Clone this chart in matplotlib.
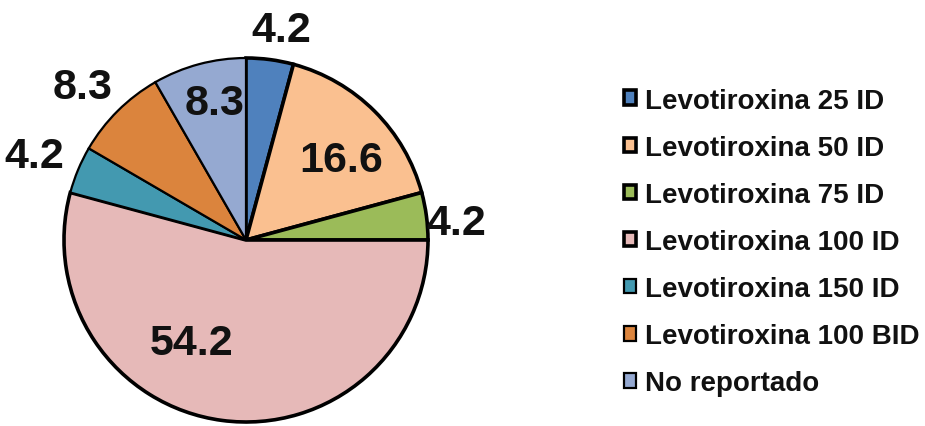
import matplotlib
matplotlib.use("Agg")
from matplotlib import pyplot as plt
from matplotlib.patches import Patch
import numpy as np

plt.rcParams['font.family'] = ['Liberation Sans', 'DejaVu Sans']

# Datos
categorias = ["Levotiroxina 25 ID", "Levotiroxina 50 ID", "Levotiroxina 75 ID",
              "Levotiroxina 100 ID", "Levotiroxina 150 ID", "Levotiroxina 100 BID",
              "No reportado"]
valores = [4.2, 16.6, 4.2, 54.2, 4.2, 8.3, 8.3]
colores = ['#4F81BD', '#FAC090', '#9BBB59', '#E6B9B8', '#4399B0', '#DB843D', '#95A9D1']
bordes = [2.6, 2.6, 2.6, 2.6, 1.6, 1.6, 1.6]

# posicion de etiquetas (radio, desplazamiento angular en grados)
radio_etq = [1.17, 0.68, 1.16, 0.64, 1.25, 1.23, 0.77]
desp_etq = [-2, -5, -3, -20, 1, 2, -2]

W, H = 925, 427
cx, cy, R = 246, 241, 182

fig = plt.figure(figsize=(W / 100, H / 100), dpi=100)
ax = fig.add_axes([0, 0, 1, 1])
ax.axis('off')

wedges, _ = ax.pie(valores, colors=colores, startangle=90, counterclock=False,
                   radius=1.0, wedgeprops=dict(edgecolor='black'))
for w, lw in zip(wedges, bordes):
    w.set_linewidth(lw)
ax.set_xlim(-cx / R, (W - cx) / R)
ax.set_ylim(-(H - cy) / R, cy / R)

for w, v, r, d in zip(wedges, valores, radio_etq, desp_etq):
    ang = np.deg2rad((w.theta1 + w.theta2) / 2 + d)
    ax.text(r * np.cos(ang), r * np.sin(ang), f"{v:.1f}", ha='center', va='center',
            fontsize=31, fontweight='bold', color='#111111')

handles = [Patch(facecolor=c, edgecolor='black', linewidth=lw) for c, lw in zip(colores, bordes)]
leg = fig.legend(handles, categorias, loc='center left',
                 bbox_to_anchor=(599 / W, (H - 243) / H), frameon=False,
                 prop=dict(size=20, weight='bold'), handlelength=0.43, handleheight=0.43,
                 handletextpad=0.32, labelspacing=0.76)
for t in leg.get_texts():
    t.set_color('#111111')

fig.savefig("out.png", dpi=100)
